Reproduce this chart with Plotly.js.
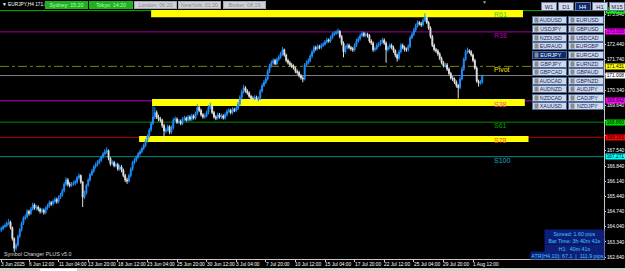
<!DOCTYPE html>
<html><head><meta charset="utf-8">
<script src="https://cdn.plot.ly/plotly-3.0.1.min.js"></script>
<style>html,body{margin:0;padding:0;background:#000;overflow:hidden}#chart{width:625px;height:271px}</style>
</head><body><div id="chart"></div>
<script>
// ---------- DATA (EURJPY H4) ----------
const opens = [
163.90,163.95,164.05,164.10,164.20,164.25,164.00,163.50,163.05,163.20,
163.60,163.90,164.20,164.45,164.50,164.75,164.65,164.85,165.05,164.90,
164.95,164.85,164.75,164.80,164.70,164.90,165.00,165.15,165.10,165.20,
165.30,165.20,165.40,165.50,165.70,166.00,166.20,166.00,165.95,166.00,
166.05,166.10,166.30,166.40,166.10,165.40,165.60,165.95,166.20,166.45,
166.60,166.80,166.90,167.00,167.10,167.25,167.40,167.50,167.55,167.20,
166.95,167.00,166.85,166.90,166.70,166.80,166.65,166.40,166.20,166.15,
166.40,166.70,167.00,167.10,167.25,167.40,167.50,167.65,167.80,168.00,
168.20,168.50,168.80,169.10,169.30,169.10,169.00,168.95,168.70,168.45,
168.50,168.65,168.40,168.60,168.95,169.00,168.85,168.90,168.80,169.00,
169.05,168.95,169.10,169.00,169.15,169.05,169.25,169.55,169.40,169.20,
169.10,169.15,169.30,169.55,169.60,169.30,169.10,169.05,169.20,169.10,
169.15,169.05,169.20,169.35,169.40,169.30,169.45,169.40,169.50,169.70,
170.00,170.25,170.45,170.30,170.20,170.05,169.95,169.95,170.00,169.90,
169.95,170.30,170.55,170.70,170.85,171.20,171.45,171.60,171.70,171.55,
171.75,171.85,172.00,172.20,171.95,171.70,171.60,171.50,171.45,171.35,
171.20,171.15,171.00,170.90,170.85,171.50,171.60,171.70,171.90,172.10,
172.30,172.25,172.35,172.30,172.40,172.45,172.55,172.65,172.60,172.75,
172.90,172.95,173.00,173.05,172.80,172.50,172.10,172.30,172.40,172.30,
172.25,172.20,172.40,172.60,172.70,172.85,172.95,172.85,172.90,172.85,
172.60,172.50,172.20,172.25,172.40,172.45,172.55,172.65,172.50,172.20,
172.30,172.40,172.30,172.15,171.95,171.80,172.10,172.40,172.30,172.20,
172.20,172.35,172.75,172.90,173.10,173.30,173.45,173.40,173.35,173.55,
173.70,173.45,173.20,172.80,172.40,172.20,172.15,172.00,171.80,171.60,
171.45,171.50,171.30,171.10,170.90,170.85,170.70,170.55,170.45,170.85,
171.30,171.75,172.10,172.15,172.10,171.95,171.70,171.35,170.75,170.65,
170.70];
const highs = [
164.05,164.12,164.20,164.28,164.40,164.32,164.05,163.55,163.30,163.68,
163.98,164.28,164.52,164.62,164.85,164.82,164.95,165.15,165.12,165.05,
165.02,164.92,164.90,164.88,164.98,165.10,165.25,165.22,165.30,165.40,
165.38,165.48,165.60,165.80,166.10,166.32,166.28,166.10,166.10,166.15,
166.20,166.38,166.50,166.45,166.15,165.70,166.02,166.28,166.52,166.70,
166.88,167.00,167.10,167.18,167.32,167.48,167.62,167.70,167.60,167.25,
167.10,167.08,167.00,166.98,166.90,166.88,166.72,166.48,166.30,166.48,
166.78,167.08,167.20,167.32,167.48,167.60,167.72,167.88,168.08,168.30,
168.60,168.90,169.60,169.55,169.40,169.20,169.10,169.02,168.78,168.60,
168.75,168.72,168.70,169.05,169.12,169.08,169.00,168.98,169.10,169.15,
169.12,169.20,169.18,169.25,169.22,169.35,169.68,169.62,169.48,169.28,
169.25,169.40,169.65,169.75,169.65,169.38,169.18,169.30,169.28,169.25,
169.22,169.30,169.45,169.50,169.48,169.55,169.52,169.60,169.80,170.10,
170.35,170.58,170.52,170.38,170.28,170.12,170.05,170.10,170.08,170.05,
170.38,170.65,170.80,170.95,171.30,171.55,171.70,171.80,171.78,171.85,
171.95,172.10,172.32,172.25,172.02,171.78,171.68,171.58,171.52,171.42,
171.28,171.22,171.08,170.98,171.58,171.70,171.80,172.00,172.20,172.40,
172.38,172.45,172.42,172.50,172.55,172.65,172.75,172.72,172.85,173.00,
173.05,173.10,173.18,173.10,172.88,172.58,172.40,172.50,172.48,172.38,
172.32,172.50,172.70,172.80,172.95,173.05,173.02,173.00,172.98,172.92,
172.68,172.58,172.35,172.50,172.55,172.65,172.75,172.72,172.58,172.40,
172.50,172.48,172.38,172.22,172.02,172.20,172.50,172.48,172.38,172.30,
172.45,172.85,173.00,173.20,173.40,173.55,173.52,173.48,173.65,173.88,
173.78,173.52,173.28,172.88,172.48,172.28,172.22,172.08,171.88,171.68,
171.60,171.58,171.38,171.18,170.98,170.92,170.78,170.62,170.95,171.40,
171.85,172.20,172.30,172.22,172.18,172.02,171.78,171.42,170.82,170.80,
171.05];
const lows = [
163.80,163.88,163.98,164.02,164.12,163.92,163.40,162.88,162.95,163.12,
163.52,163.82,164.12,164.35,164.42,164.55,164.58,164.78,164.82,164.80,
164.75,164.65,164.66,164.60,164.62,164.82,164.92,165.00,165.02,165.12,
165.10,165.12,165.32,165.42,165.62,165.92,165.90,165.85,165.88,165.92,
165.95,166.02,166.22,166.02,164.95,165.32,165.52,165.88,166.12,166.38,
166.52,166.72,166.82,166.92,167.02,167.18,167.32,167.40,167.10,166.85,
166.88,166.78,166.78,166.62,166.62,166.55,166.32,166.10,166.02,166.08,
166.32,166.62,166.92,167.02,167.18,167.32,167.42,167.58,167.72,167.92,
168.12,168.42,168.72,169.00,169.00,168.90,168.85,168.60,168.05,168.35,
168.42,168.30,168.32,168.52,168.88,168.78,168.78,168.72,168.72,168.92,
168.88,168.88,168.92,168.92,168.98,168.98,169.18,169.32,169.12,169.02,
169.02,169.08,169.22,169.45,169.22,169.02,168.95,168.98,169.02,169.02,
168.98,168.98,169.12,169.28,169.22,169.22,169.32,169.32,169.42,169.62,
169.92,170.18,170.22,170.12,169.98,169.85,169.85,169.88,169.82,169.82,
169.88,170.22,170.48,170.62,170.78,171.12,171.38,171.52,171.48,171.48,
171.68,171.78,171.92,171.88,171.62,171.52,171.42,171.35,171.28,171.12,
171.05,170.92,170.82,170.70,170.78,171.42,171.52,171.62,171.82,172.02,
172.15,172.18,172.22,172.22,172.32,172.38,172.48,172.52,172.52,172.68,
172.82,172.88,172.92,172.72,172.40,171.85,172.02,172.22,172.22,172.15,
172.10,172.12,172.32,172.52,172.62,172.78,172.78,172.78,172.75,172.52,
172.42,172.10,172.12,172.18,172.32,172.38,172.48,172.42,171.60,172.12,
172.22,172.22,172.05,171.85,171.65,171.72,172.02,172.22,172.12,172.10,
172.12,172.28,172.68,172.82,173.02,173.22,173.32,173.25,173.28,173.48,
173.38,173.12,172.72,172.32,172.12,172.05,171.92,171.72,171.52,171.38,
171.38,171.22,171.02,170.82,170.75,170.62,170.45,169.95,170.38,170.78,
171.22,171.68,172.02,172.02,171.88,171.62,171.28,170.68,170.50,170.58,
170.62];
const closes = [
163.95,164.05,164.10,164.20,164.25,164.00,163.50,163.05,163.20,163.60,
163.90,164.20,164.45,164.50,164.75,164.65,164.85,165.05,164.90,164.95,
164.85,164.75,164.80,164.70,164.90,165.00,165.15,165.10,165.20,165.30,
165.20,165.40,165.50,165.70,166.00,166.20,166.00,165.95,166.00,166.05,
166.10,166.30,166.40,166.10,165.40,165.60,165.95,166.20,166.45,166.60,
166.80,166.90,167.00,167.10,167.25,167.40,167.50,167.55,167.20,166.95,
167.00,166.85,166.90,166.70,166.80,166.65,166.40,166.20,166.15,166.40,
166.70,167.00,167.10,167.25,167.40,167.50,167.65,167.80,168.00,168.20,
168.50,168.80,169.10,169.30,169.10,169.00,168.95,168.70,168.45,168.50,
168.65,168.40,168.60,168.95,169.00,168.85,168.90,168.80,169.00,169.05,
168.95,169.10,169.00,169.15,169.05,169.25,169.55,169.40,169.20,169.10,
169.15,169.30,169.55,169.60,169.30,169.10,169.05,169.20,169.10,169.15,
169.05,169.20,169.35,169.40,169.30,169.45,169.40,169.50,169.70,170.00,
170.25,170.45,170.30,170.20,170.05,169.95,169.95,170.00,169.90,169.95,
170.30,170.55,170.70,170.85,171.20,171.45,171.60,171.70,171.55,171.75,
171.85,172.00,172.20,171.95,171.70,171.60,171.50,171.45,171.35,171.20,
171.15,171.00,170.90,170.85,171.50,171.60,171.70,171.90,172.10,172.30,
172.25,172.35,172.30,172.40,172.45,172.55,172.65,172.60,172.75,172.90,
172.95,173.00,173.05,172.80,172.50,172.10,172.30,172.40,172.30,172.25,
172.20,172.40,172.60,172.70,172.85,172.95,172.85,172.90,172.85,172.60,
172.50,172.20,172.25,172.40,172.45,172.55,172.65,172.50,172.20,172.30,
172.40,172.30,172.15,171.95,171.80,172.10,172.40,172.30,172.20,172.20,
172.35,172.75,172.90,173.10,173.30,173.45,173.40,173.35,173.55,173.70,
173.45,173.20,172.80,172.40,172.20,172.15,172.00,171.80,171.60,171.45,
171.50,171.30,171.10,170.90,170.85,170.70,170.55,170.45,170.85,171.30,
171.75,172.10,172.15,172.10,171.95,171.70,171.35,170.75,170.65,170.70,
171.008];

const xTickIndex = [0,15,31,47,63,79,95,111,127,143,159,175,191,207,223,239,255];
const xTickLabels = ['3 Jun 2025','6 Jun 12:00','11 Jun 04:00','13 Jun 20:00','18 Jun 12:00','23 Jun 04:00','25 Jun 20:00','30 Jun 12:00','3 Jul 04:00','7 Jul 20:00','10 Jul 12:00','15 Jul 04:00','17 Jul 20:00','22 Jul 12:00','25 Jul 04:00','29 Jul 20:00','1 Aug 12:00'];
const yTickValues = [162.64,163.34,164.04,164.74,165.44,166.14,166.84,167.54,168.24,168.94,169.64,170.34,171.04,171.74,172.44,173.14,173.84];
// labels hidden behind the coloured price boxes are left blank, as in the terminal
const yTickLabels = ['162.640','163.340','164.040','164.740','165.440','166.140','166.840','167.540','','','169.640','170.340','','171.740','172.440','','173.840'];

const levelNames  = ['R61','R38','Pivot','S38','S61','S78','S100'];
const levelPrices = [174.002,173.020,171.431,169.842,168.860,168.161,167.271];

const zoneTop    = [174.03,169.93,168.22];
const zoneBottom = [173.70,169.60,167.95];
const zoneStart  = [81,81.5,74.5];
const zoneEnd    = [282,283,285];

const sessionLabels = ['Sydney: 15:20','Tokyo: 14:20','London: 06:20','NewYork: 01:20','Broker: 08:19'];
const timeframes = ['W1','D1','H4','H1','M15'];
const symbolsLeft  = ['AUDUSD','USDJPY','NZDUSD','EURAUD','EURJPY','GBPJPY','GBPCAD','AUDCAD','AUDNZD','NZDCAD','XAUUSD'];
const symbolsRight = ['EURUSD','GBPUSD','USDCAD','EURGBP','EURCAD','EURNZD','GBPAUD','GBPNZD','AUDJPY','CADJPY','NZDJPY'];
const infoLines = ['Spread: 1.60 pips','Bar Time: 3h 40m 41s','H1:  40m 41s','ATR(H4,10): 67.1  |  111.9 pips'];

// ---------- STYLE / LAYOUT ----------
const FONT = 'Liberation Sans, Arial, sans-serif';
const W = 604, H = 259;
const px = x => x / W;
const py = y => 1 - y / H;

const lineColors  = ['#00b400','#a000a0','#808000','#c000c0','#008c00','#b00000','#008b8b'];
const lineDash    = ['solid','solid','dashdot','solid','solid','solid','solid'];
const labelColors = ['#3cc83c','#b000b0','#e6e600','#ff3c9a','#00a000','#ff4020','#20a8c8'];
const boxColors   = ['#00ff00','#ff00ff','#ffff00','#ff00ff','#00e000','#ff0000','#00ffff'];

const barIndex = closes.map((_, i) => i);
const lastClose = closes[closes.length - 1];

const shapes = [];
levelPrices.forEach((p, i) => {
  shapes.push({type:'line', xref:'paper', x0:0, x1:1, yref:'y', y0:p, y1:p,
    line:{color:lineColors[i], width:1, dash:lineDash[i]}, layer:'below'});
});
shapes.push({type:'line', xref:'paper', x0:0, x1:1, yref:'y', y0:lastClose, y1:lastClose,
  line:{color:'#808080', width:1}, layer:'below'});
zoneTop.forEach((t, i) => {
  shapes.push({type:'rect', xref:'x', yref:'y', x0:zoneStart[i], x1:zoneEnd[i], y0:zoneBottom[i], y1:t,
    fillcolor:'#ffff00', line:{width:0}, layer:'below'});
});
// bottom window strip
shapes.push({type:'rect', xref:'paper', yref:'paper', x0:0, x1:625/W, y0:py(271), y1:py(268),
  fillcolor:'#d4d0c8', line:{width:0}});
shapes.push({type:'rect', xref:'paper', yref:'paper', x0:px(40), x1:px(77), y0:py(271), y1:py(268.5),
  fillcolor:'#ffffff', line:{width:0}});

const ann = [];
// time-axis labels, left-aligned at their bar like the terminal
xTickIndex.forEach((b, i) => {
  ann.push({xref:'x', x:b, xanchor:'left', xshift:-1, yref:'paper', y:py(264), yanchor:'middle',
    text:xTickLabels[i], showarrow:false, borderpad:0, font:{family:FONT, size:4.8, color:'#ffffff'}});
});
// level labels
levelPrices.forEach((p, i) => {
  ann.push({xref:'paper', x:px(493), xanchor:'left', yref:'y', y:p, yanchor:'top', yshift:1,
    text:levelNames[i], showarrow:false, font:{family:FONT, size:7, color:labelColors[i]}, borderpad:0});
});
// price boxes on right axis
levelPrices.forEach((p, i) => {
  ann.push({xref:'paper', x:px(605), xanchor:'left', yref:'y', y:p, yanchor:'middle',
    text:p.toFixed(3), showarrow:false, bgcolor:boxColors[i], width:19, height:5, borderpad:0,
    font:{family:FONT, size:4.8, color:'#000'}});
});
ann.push({xref:'paper', x:px(605), xanchor:'left', yref:'y', y:lastClose, yanchor:'middle',
  text:lastClose.toFixed(3), showarrow:false, bgcolor:'#ffffff', width:19, height:5, borderpad:0,
  font:{family:FONT, size:4.8, color:'#000'}});

// header
ann.push({xref:'paper', yref:'paper', x:px(1), y:py(5), xanchor:'left', yanchor:'middle',
  text:'▼ EURJPY,H4 171.0', showarrow:false, borderpad:0, font:{family:FONT, size:4.8, color:'#ffffff'}});
const sessX = [[45,88],[89,133],[134,177],[178,221],[223,266]];
sessionLabels.forEach((s, i) => {
  const green = i < 2;
  ann.push({xref:'paper', yref:'paper', x:px((sessX[i][0]+sessX[i][1])/2), y:py(5), xanchor:'center', yanchor:'middle',
    text:s, showarrow:false, width:sessX[i][1]-sessX[i][0]-2, height:6, borderpad:0,
    bgcolor: green ? '#22b022' : '#d0d0d8', bordercolor: green ? '#22b022' : '#a8a8b0', borderwidth:1,
    font:{family:FONT, size:5.3, color: green ? '#b8ffb8' : '#8a8a8a'}});
});
ann.push({xref:'paper', yref:'paper', x:px(484), y:py(2), xanchor:'center', yanchor:'middle',
  text:'▼', showarrow:false, font:{family:FONT, size:5, color:'#a0a0a0'}});

// timeframe buttons
timeframes.forEach((t, i) => {
  const sel = t === 'H4';
  ann.push({xref:'paper', yref:'paper', x:px(549 + 17*i), y:py(6.5), xanchor:'center', yanchor:'middle',
    text:t, showarrow:false, width:14, height:7, borderpad:0,
    bgcolor: sel ? '#0a2a72' : '#d6dcea', bordercolor:'#6a7aa0', borderwidth:1,
    font:{family:FONT, size:5.8, color: sel ? '#ffffff' : '#1a2a5a'}});
});
// symbol buttons
const rowY = [20.5,29.1,37.7,46.3,54.9,63.5,72.1,80.7,89.3,97.9,106.5];
symbolsLeft.forEach((s, r) => {
  [[s, 549, 33], [symbolsRight[r], 585.5, 34]].forEach(([name, cx, w]) => {
    const sel = name === 'EURJPY';
    ann.push({xref:'paper', yref:'paper', x:px(cx), y:py(rowY[r]), xanchor:'center', yanchor:'middle',
      text:'  ' + name, showarrow:false, width:w, height:6, borderpad:0,
      bgcolor: sel ? '#0a2a72' : '#d0d8ea', bordercolor:'#4a6a9a', borderwidth:1,
      font:{family:FONT, size:5.3, color: sel ? '#ffffff' : '#1a2a5a'}});
    ann.push({xref:'paper', yref:'paper', x:px(cx - w/2 + 3.5), y:py(rowY[r]), xanchor:'center', yanchor:'middle',
      text:' ', showarrow:false, width:3, height:4, borderpad:0, bgcolor:'#8a8a8a',
      font:{family:FONT, size:4, color:'#8a8a8a'}});
  });
});
// info box
const infoY = [233, 240.5, 248, 255.5];
const infoX = [[545,604],[545,604],[545,604],[531,604]];
infoLines.forEach((t, i) => {
  ann.push({xref:'paper', yref:'paper', x:px((infoX[i][0]+infoX[i][1])/2), y:py(infoY[i]), xanchor:'center', yanchor:'middle',
    text:t, showarrow:false, width:infoX[i][1]-infoX[i][0], height:7, borderpad:0, bgcolor:'#0d1f78',
    font:{family:FONT, size:5.3, color:'#3cc8ff'}});
});
ann.push({xref:'paper', yref:'paper', x:px(2), y:py(254), xanchor:'left', yanchor:'middle',
  text:'Symbol Changer PLUS v5.0', showarrow:false, font:{family:FONT, size:5.4, color:'#d8d8d8'}});

const trace = {
  type:'candlestick', x:barIndex, open:opens, high:highs, low:lows, close:closes,
  increasing:{line:{color:'#1e90ff', width:1}, fillcolor:'#1e90ff'},
  decreasing:{line:{color:'#e0e0e0', width:1}, fillcolor:'#ffffff'},
  whiskerwidth:0, hoverinfo:'skip', showlegend:false
};

const layout = {
  width:625, height:271,
  margin:{l:0, r:21, t:0, b:12, pad:0},
  paper_bgcolor:'#000000', plot_bgcolor:'#000000', showlegend:false,
  font:{family:FONT, size:5.5, color:'#ffffff'},
  xaxis:{range:[-0.68, 325.8], rangeslider:{visible:false}, showgrid:false, zeroline:false,
    showline:true, linecolor:'#c8c8c8', linewidth:1,
    tickmode:'array', tickvals:xTickIndex, ticks:'outside', ticklen:2, tickcolor:'#c8c8c8',
    showticklabels:false, fixedrange:true, automargin:false},
  yaxis:{side:'right', range:[162.554, 174.49], showgrid:false, zeroline:false,
    showline:true, linecolor:'#c8c8c8', linewidth:1,
    tickmode:'array', tickvals:yTickValues, ticktext:yTickLabels,
    ticks:'outside', ticklen:1, tickcolor:'#c8c8c8',
    tickfont:{family:FONT, size:4.8, color:'#ffffff'}, fixedrange:true, automargin:false},
  shapes:shapes, annotations:ann
};

Plotly.newPlot('chart', [trace], layout, {staticPlot:true, displayModeBar:false});
</script>
</body></html>
